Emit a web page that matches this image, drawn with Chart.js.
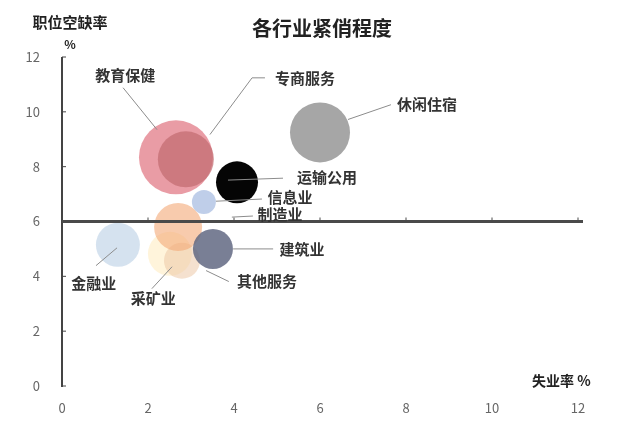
<!DOCTYPE html>
<html lang="zh-CN">

<head>
  <meta charset="UTF-8">
  <title>各行业紧俏程度</title>
  <style>
    html, body { margin: 0; padding: 0; background: #fff; }
  </style>
</head>

<body>
  <canvas id="grafico1" width="637" height="423" style="width: 637px; height: 423px"></canvas>

  <script src="https://cdn.jsdelivr.net/npm/chart.js"></script>

  <script>
    // dados
    const hangye = ["其他服务", "采矿业", "金融业", "制造业", "信息业", "教育保健", "专商服务", "休闲住宿", "建筑业", "运输公用"]
    const shiyelv = [2.51, 2.79, 1.30, 2.70, 3.30, 2.65, 2.88, 6.00, 3.51, 4.07]      // 失业率 %
    const kongquelv = [4.82, 4.57, 5.15, 5.80, 6.71, 8.34, 8.27, 9.25, 5.00, 7.43]    // 职位空缺率 %
    const guimo = [22, 18, 22, 24, 12, 37, 28, 30, 20, 21]
    const xTicks = [0, 2, 4, 6, 8, 10, 12]
    const yTicks = [0, 2, 4, 6, 8, 10, 12]

    // cores
    const cores = [
      "rgba(255,238,200,0.65)", "rgba(236,200,168,0.55)", "rgba(190,210,230,0.65)",
      "rgba(244,168,118,0.6)", "rgba(170,190,225,0.75)", "rgba(230,142,152,0.88)",
      "rgba(196,108,114,0.72)", "#a6a6a6", "rgba(98,104,130,0.85)", "#050505"
    ]

    // rótulos (coordenadas em unidades dos eixos)
    const rotulos = {
      "教育保健": { pos: [1.47, 11.35], linha: [[1.42, 10.88], [2.21, 9.35]] },
      "专商服务": { pos: [5.65, 11.24], linha: [[4.72, 11.24], [4.42, 11.24], [3.44, 9.17]] },
      "休闲住宿": { pos: [8.49, 10.26], linha: [[6.65, 9.72], [7.65, 10.26]] },
      "运输公用": { pos: [6.16, 7.61], linha: [[3.86, 7.51], [5.14, 7.58]] },
      "信息业": { pos: [5.30, 6.89], linha: [[3.58, 6.74], [4.65, 6.82]] },
      "制造业": { pos: [5.07, 6.27], linha: [[3.95, 6.16], [4.44, 6.20]] },
      "金融业": { pos: [0.74, 3.73], linha: [[0.79, 4.39], [1.28, 5.04]] },
      "采矿业": { pos: [2.12, 3.19], linha: [[2.09, 3.55], [2.56, 4.35]] },
      "其他服务": { pos: [4.77, 3.81], linha: [[3.88, 3.81], [3.35, 4.21]] },
      "建筑业": { pos: [5.58, 5.00], linha: [[3.98, 5.00], [4.91, 5.00]] }
    }

    const fonte = "'Noto Sans CJK SC', 'Noto Sans', sans-serif"

    const desenho = {
      id: 'desenho',
      afterDatasetsDraw(chart) {
        const c = chart.ctx
        const sx = chart.scales.x, sy = chart.scales.y
        const a = chart.chartArea
        c.save()

        // eixo y
        c.strokeStyle = '#444'
        c.lineWidth = 2
        c.beginPath()
        c.moveTo(a.left, a.top)
        c.lineTo(a.left, a.bottom + 1)
        c.stroke()
        c.lineWidth = 1
        yTicks.forEach(v => {
          const y = sy.getPixelForValue(v)
          c.beginPath(); c.moveTo(a.left, y); c.lineTo(a.left + 4, y); c.stroke()
        })

        // linha horizontal em y = 6
        const y6 = sy.getPixelForValue(6)
        c.lineWidth = 3
        c.strokeStyle = '#4a4a4a'
        c.beginPath()
        c.moveTo(a.left, y6)
        c.lineTo(sx.getPixelForValue(12) + 5, y6)
        c.stroke()
        c.lineWidth = 1
        xTicks.forEach(v => {
          if (v === 0) return
          const x = sx.getPixelForValue(v)
          c.beginPath(); c.moveTo(x, y6); c.lineTo(x, y6 - 4); c.stroke()
        })

        // linhas guia e rótulos
        c.strokeStyle = '#8c8c8c'
        c.lineWidth = 1
        c.fillStyle = '#333'
        c.font = "bold 15px " + fonte
        c.textAlign = 'center'
        c.textBaseline = 'middle'
        Object.keys(rotulos).forEach(nome => {
          const r = rotulos[nome]
          c.beginPath()
          r.linha.forEach((p, i) => {
            const x = sx.getPixelForValue(p[0]), y = sy.getPixelForValue(p[1])
            if (i === 0) c.moveTo(x, y); else c.lineTo(x, y)
          })
          c.stroke()
          c.fillText(nome, sx.getPixelForValue(r.pos[0]), sy.getPixelForValue(r.pos[1]))
        })

        // títulos
        c.fillStyle = '#222'
        c.font = "bold 20px " + fonte
        c.fillText("各行业紧俏程度", 322, 28)
        c.font = "bold 15px " + fonte
        c.fillText("职位空缺率", 70, 22)
        c.font = "bold 12px " + fonte
        c.fillText("%", 70, 44)
        c.font = "bold 14px " + fonte
        c.textAlign = 'left'
        c.fillText("失业率 %", 532, 381)
        c.restore()
      }
    }

    const ctx = document.getElementById('grafico1')

    let grafico1 = new Chart(ctx, {
      type: 'bubble',
      data: {
        datasets: [{
          data: hangye.map((h, i) => ({ x: shiyelv[i], y: kongquelv[i], r: guimo[i] })),
          backgroundColor: cores,
          borderWidth: 0,
          hoverBorderWidth: 0
        }]
      },
      options: {
        responsive: false,
        animation: false,
        layout: { padding: { top: 57, right: 59, left: 0, bottom: 0 } },
        plugins: { legend: { display: false }, tooltip: { enabled: false } },
        scales: {
          x: {
            min: 0, max: 12,
            afterBuildTicks: s => { s.ticks = xTicks.map(v => ({ value: v })) },
            afterFit: s => { s.height = 35 },
            grid: { display: false, drawTicks: false },
            border: { display: false },
            ticks: { padding: 14, color: '#666', font: { size: 13, family: fonte } }
          },
          y: {
            min: 0, max: 12,
            afterBuildTicks: s => { s.ticks = yTicks.map(v => ({ value: v })) },
            afterFit: s => { s.width = 62 },
            grid: { display: false, drawTicks: false },
            border: { display: false },
            ticks: { padding: 22, color: '#666', font: { size: 13, family: fonte } }
          }
        }
      },
      plugins: [desenho]
    })
  </script>
</body>

</html>
